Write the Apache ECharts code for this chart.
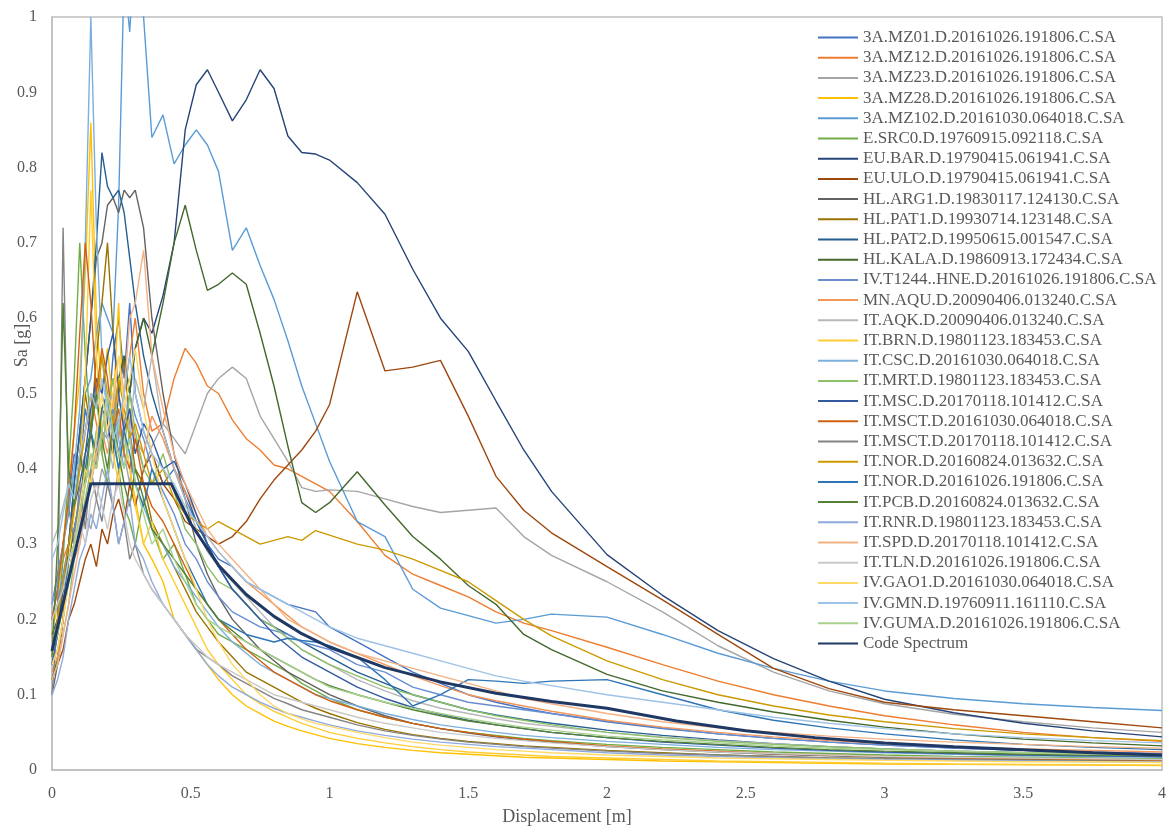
<!DOCTYPE html>
<html>
<head>
<meta charset="utf-8">
<script src="https://cdn.jsdelivr.net/npm/echarts@6/dist/echarts.min.js"></script>
<style>
html,body{margin:0;padding:0;background:#fff;}
#chart{width:1166px;height:830px;}
</style>
</head>
<body>
<div id="chart"></div>
<script>
// Shared displacement grid [m]
const X = [0,0.02,0.04,0.06,0.08,0.1,0.12,0.14,0.16,0.18,
           0.2,0.22,0.24,0.26,0.28,0.3,0.33,0.36,0.4,0.44,
           0.48,0.52,0.56,0.6,0.65,0.7,0.75,0.8,0.85,0.9,
           0.95,1.0,1.1,1.2,1.3,1.4,1.5,1.6,1.7,1.8,
           2.0,2.2,2.4,2.6,2.8,3.0,3.25,3.5,3.75,4.0];

const NAMES = [
 '3A.MZ01.D.20161026.191806.C.SA','3A.MZ12.D.20161026.191806.C.SA','3A.MZ23.D.20161026.191806.C.SA',
 '3A.MZ28.D.20161026.191806.C.SA','3A.MZ102.D.20161030.064018.C.SA','E.SRC0.D.19760915.092118.C.SA',
 'EU.BAR.D.19790415.061941.C.SA','EU.ULO.D.19790415.061941.C.SA','HL.ARG1.D.19830117.124130.C.SA',
 'HL.PAT1.D.19930714.123148.C.SA','HL.PAT2.D.19950615.001547.C.SA','HL.KALA.D.19860913.172434.C.SA',
 'IV.T1244..HNE.D.20161026.191806.C.SA','MN.AQU.D.20090406.013240.C.SA','IT.AQK.D.20090406.013240.C.SA',
 'IT.BRN.D.19801123.183453.C.SA','IT.CSC.D.20161030.064018.C.SA','IT.MRT.D.19801123.183453.C.SA',
 'IT.MSC.D.20170118.101412.C.SA','IT.MSCT.D.20161030.064018.C.SA','IT.MSCT.D.20170118.101412.C.SA',
 'IT.NOR.D.20160824.013632.C.SA','IT.NOR.D.20161026.191806.C.SA','IT.PCB.D.20160824.013632.C.SA',
 'IT.RNR.D.19801123.183453.C.SA','IT.SPD.D.20170118.101412.C.SA','IT.TLN.D.20161026.191806.C.SA',
 'IV.GAO1.D.20161030.064018.C.SA','IV.GMN.D.19760911.161110.C.SA','IV.GUMA.D.20161026.191806.C.SA'
];

const COLORS = ['#4472C4','#ED7D31','#A5A5A5','#FFC000','#5B9BD5','#70AD47',
                '#264478','#9E480E','#636363','#997300','#255E91','#43682B',
                '#698ED0','#F1975A','#B7B7B7','#FFCD33','#7CAFDD','#8CC168',
                '#335AA1','#D26012','#848484','#CC9A00','#2E75B6','#548235',
                '#8FAADC','#F4B183','#C9C9C9','#FFD966','#9DC3E6','#A9D18E'];

const S01 = [0.22,0.26,0.3,0.36,0.42,0.4,0.48,0.44,0.52,0.5, 0.46,0.55,0.6,0.52,0.62,0.5,0.45,0.42,0.38,0.4, 0.36,0.33,0.3,0.28,0.27,0.25,0.24,0.23,0.22,0.215, 0.21,0.19,0.17,0.15,0.13,0.115,0.1,0.09,0.082,0.075, 0.064,0.055,0.048,0.042,0.037,0.033,0.029,0.026,0.023,0.021];
const S02 = [0.2,0.24,0.28,0.3,0.36,0.4,0.45,0.5,0.46,0.42, 0.48,0.52,0.44,0.5,0.55,0.6,0.5,0.45,0.46,0.52, 0.56,0.54,0.51,0.5,0.465,0.44,0.425,0.405,0.4,0.39, 0.38,0.37,0.33,0.285,0.26,0.245,0.23,0.21,0.195,0.185, 0.163,0.14,0.118,0.1,0.085,0.072,0.06,0.05,0.043,0.038];
const S03 = [0.14,0.16,0.2,0.25,0.28,0.3,0.34,0.32,0.36,0.4, 0.38,0.35,0.4,0.42,0.38,0.44,0.4,0.43,0.46,0.44, 0.42,0.46,0.5,0.52,0.535,0.52,0.47,0.44,0.41,0.375, 0.37,0.372,0.37,0.36,0.35,0.342,0.345,0.348,0.31,0.285, 0.25,0.21,0.165,0.13,0.105,0.088,0.074,0.064,0.056,0.05];
const S04 = [0.18,0.22,0.3,0.38,0.45,0.52,0.66,0.86,0.6,0.5, 0.56,0.48,0.62,0.45,0.4,0.36,0.3,0.28,0.25,0.2, 0.18,0.16,0.14,0.12,0.1,0.085,0.075,0.065,0.058,0.052, 0.047,0.042,0.035,0.03,0.026,0.023,0.021,0.019,0.017,0.016, 0.014,0.012,0.011,0.01,0.009,0.008,0.0075,0.007,0.0065,0.006];
const S05 = [0.2,0.24,0.3,0.34,0.4,0.44,0.5,0.52,0.58,0.62, 0.6,0.58,0.75,1.06,0.98,1.1,1.0,0.84,0.87,0.805, 0.83,0.85,0.83,0.795,0.69,0.72,0.67,0.625,0.57,0.51, 0.46,0.41,0.33,0.31,0.24,0.215,0.205,0.195,0.2,0.207, 0.203,0.18,0.155,0.135,0.118,0.105,0.095,0.088,0.083,0.079];
const S06 = [0.16,0.2,0.28,0.4,0.52,0.7,0.55,0.45,0.5,0.42, 0.38,0.45,0.4,0.35,0.33,0.3,0.36,0.32,0.28,0.3, 0.26,0.22,0.2,0.18,0.17,0.16,0.15,0.14,0.13,0.115, 0.105,0.095,0.08,0.07,0.062,0.055,0.05,0.046,0.042,0.039, 0.034,0.03,0.027,0.024,0.022,0.02,0.018,0.017,0.016,0.015];
const S07 = [0.16,0.2,0.24,0.28,0.32,0.36,0.4,0.38,0.44,0.48, 0.46,0.42,0.5,0.55,0.5,0.56,0.6,0.58,0.63,0.7, 0.85,0.91,0.93,0.9,0.862,0.89,0.93,0.905,0.842,0.82, 0.818,0.81,0.78,0.738,0.665,0.6,0.556,0.49,0.425,0.37, 0.286,0.232,0.185,0.148,0.118,0.094,0.076,0.062,0.052,0.044];
const S08 = [0.12,0.14,0.16,0.2,0.22,0.25,0.28,0.3,0.27,0.32, 0.3,0.34,0.36,0.33,0.38,0.35,0.4,0.42,0.38,0.36, 0.33,0.32,0.31,0.3,0.31,0.33,0.36,0.385,0.405,0.425, 0.45,0.485,0.635,0.53,0.535,0.544,0.47,0.39,0.345,0.315, 0.27,0.226,0.18,0.135,0.108,0.09,0.08,0.072,0.064,0.056];
const S09 = [0.1,0.14,0.2,0.3,0.38,0.45,0.52,0.6,0.68,0.7, 0.75,0.76,0.74,0.77,0.76,0.77,0.72,0.6,0.5,0.42, 0.36,0.3,0.26,0.23,0.2,0.18,0.16,0.145,0.13,0.12, 0.11,0.1,0.085,0.072,0.062,0.055,0.049,0.044,0.04,0.037, 0.031,0.027,0.024,0.021,0.019,0.017,0.015,0.014,0.013,0.012];
const S10 = [0.15,0.18,0.24,0.3,0.35,0.42,0.5,0.45,0.55,0.62, 0.7,0.58,0.5,0.55,0.45,0.4,0.38,0.33,0.3,0.27, 0.24,0.21,0.19,0.17,0.15,0.13,0.12,0.11,0.1,0.09, 0.082,0.075,0.063,0.054,0.047,0.042,0.038,0.035,0.032,0.03, 0.026,0.023,0.02,0.018,0.016,0.015,0.014,0.013,0.012,0.011];
const S11 = [0.14,0.18,0.25,0.3,0.38,0.45,0.52,0.6,0.7,0.82, 0.775,0.76,0.77,0.74,0.68,0.62,0.55,0.5,0.45,0.4, 0.37,0.33,0.3,0.27,0.24,0.22,0.2,0.19,0.18,0.17, 0.16,0.15,0.13,0.115,0.1,0.09,0.08,0.073,0.067,0.062, 0.053,0.046,0.04,0.035,0.031,0.028,0.025,0.023,0.021,0.02];
const S12 = [0.12,0.15,0.2,0.28,0.32,0.35,0.42,0.45,0.4,0.48, 0.5,0.46,0.52,0.55,0.5,0.56,0.6,0.55,0.62,0.7, 0.75,0.69,0.637,0.645,0.66,0.645,0.58,0.51,0.43,0.355, 0.342,0.355,0.396,0.352,0.31,0.28,0.245,0.22,0.18,0.16, 0.127,0.105,0.09,0.077,0.066,0.057,0.048,0.041,0.036,0.032];
const S13 = [0.2,0.22,0.26,0.3,0.32,0.36,0.4,0.38,0.42,0.45, 0.44,0.48,0.42,0.46,0.5,0.47,0.44,0.4,0.37,0.34, 0.3,0.28,0.25,0.23,0.21,0.2,0.19,0.185,0.18,0.17, 0.165,0.16,0.14,0.13,0.11,0.1,0.09,0.085,0.08,0.075, 0.065,0.056,0.048,0.042,0.037,0.033,0.029,0.026,0.024,0.022];
const S14 = [0.13,0.15,0.2,0.26,0.3,0.33,0.38,0.42,0.4,0.45, 0.42,0.46,0.5,0.45,0.48,0.44,0.42,0.47,0.44,0.4, 0.37,0.34,0.31,0.29,0.27,0.25,0.235,0.22,0.205,0.19, 0.18,0.17,0.155,0.14,0.125,0.112,0.1,0.092,0.085,0.078, 0.066,0.057,0.05,0.044,0.039,0.035,0.031,0.028,0.026,0.024];
const S15 = [0.3,0.32,0.35,0.38,0.36,0.4,0.42,0.38,0.45,0.48, 0.44,0.4,0.46,0.5,0.45,0.52,0.48,0.55,0.45,0.4, 0.36,0.32,0.29,0.27,0.25,0.23,0.21,0.19,0.175,0.16, 0.15,0.14,0.12,0.105,0.092,0.082,0.075,0.068,0.062,0.058, 0.05,0.044,0.039,0.035,0.031,0.028,0.025,0.023,0.021,0.02];
const S16 = [0.15,0.18,0.22,0.28,0.34,0.4,0.52,0.77,0.55,0.45, 0.5,0.42,0.38,0.45,0.4,0.35,0.3,0.33,0.28,0.25, 0.22,0.19,0.16,0.14,0.12,0.1,0.088,0.078,0.07,0.062, 0.056,0.05,0.042,0.036,0.031,0.027,0.024,0.022,0.02,0.018, 0.016,0.014,0.012,0.011,0.01,0.009,0.008,0.0075,0.007,0.0065];
const S17 = [0.22,0.25,0.3,0.35,0.4,0.48,0.7,1.0,0.72,0.55, 0.48,0.5,0.44,0.4,0.45,0.38,0.35,0.32,0.3,0.27, 0.25,0.23,0.21,0.19,0.17,0.155,0.14,0.13,0.12,0.11, 0.1,0.095,0.085,0.075,0.067,0.06,0.055,0.05,0.046,0.043, 0.038,0.034,0.03,0.027,0.025,0.023,0.021,0.019,0.018,0.017];
const S18 = [0.12,0.14,0.18,0.22,0.28,0.32,0.36,0.4,0.45,0.42, 0.48,0.52,0.46,0.42,0.5,0.45,0.4,0.38,0.42,0.37, 0.32,0.3,0.27,0.25,0.24,0.22,0.2,0.19,0.175,0.16, 0.15,0.14,0.125,0.11,0.1,0.09,0.08,0.072,0.066,0.06, 0.05,0.043,0.038,0.034,0.031,0.028,0.025,0.023,0.021,0.02];
const S19 = [0.18,0.2,0.24,0.3,0.35,0.38,0.42,0.48,0.52,0.5, 0.55,0.58,0.5,0.45,0.48,0.42,0.46,0.44,0.4,0.41, 0.38,0.34,0.3,0.27,0.24,0.22,0.2,0.18,0.165,0.15, 0.14,0.13,0.11,0.095,0.083,0.074,0.066,0.06,0.055,0.05, 0.043,0.037,0.033,0.029,0.026,0.024,0.022,0.02,0.019,0.018];
const S20 = [0.2,0.24,0.3,0.36,0.45,0.58,0.7,0.62,0.5,0.56, 0.52,0.45,0.48,0.42,0.4,0.44,0.38,0.35,0.33,0.3, 0.27,0.24,0.22,0.2,0.18,0.16,0.145,0.13,0.12,0.11, 0.1,0.092,0.08,0.07,0.062,0.055,0.05,0.045,0.041,0.038, 0.032,0.028,0.025,0.022,0.02,0.018,0.016,0.015,0.014,0.013];
const S21 = [0.1,0.2,0.72,0.35,0.3,0.38,0.32,0.4,0.36,0.33, 0.38,0.35,0.3,0.33,0.28,0.3,0.26,0.24,0.22,0.2, 0.18,0.16,0.15,0.14,0.125,0.115,0.105,0.095,0.088,0.08, 0.075,0.07,0.06,0.052,0.046,0.041,0.037,0.034,0.031,0.029, 0.025,0.022,0.02,0.018,0.016,0.015,0.014,0.013,0.012,0.011];
const S22 = [0.16,0.2,0.25,0.3,0.35,0.4,0.45,0.5,0.48,0.55, 0.5,0.46,0.52,0.48,0.44,0.46,0.42,0.38,0.4,0.36, 0.34,0.33,0.32,0.33,0.32,0.31,0.3,0.305,0.31,0.305, 0.318,0.312,0.3,0.292,0.28,0.265,0.25,0.225,0.2,0.178, 0.145,0.12,0.1,0.085,0.073,0.064,0.055,0.048,0.043,0.039];
const S23 = [0.14,0.18,0.22,0.28,0.3,0.35,0.4,0.45,0.42,0.48, 0.5,0.44,0.4,0.45,0.42,0.38,0.35,0.4,0.36,0.32, 0.28,0.25,0.22,0.2,0.19,0.18,0.175,0.17,0.175,0.172, 0.17,0.165,0.15,0.12,0.085,0.1,0.12,0.118,0.115,0.118, 0.12,0.1,0.08,0.066,0.056,0.048,0.04,0.034,0.03,0.027];
const S24 = [0.15,0.3,0.62,0.4,0.35,0.42,0.38,0.45,0.5,0.44, 0.4,0.46,0.42,0.38,0.35,0.4,0.36,0.32,0.3,0.28, 0.26,0.24,0.22,0.2,0.185,0.17,0.16,0.15,0.14,0.13, 0.12,0.112,0.1,0.09,0.08,0.072,0.065,0.06,0.055,0.05, 0.043,0.038,0.034,0.03,0.027,0.025,0.023,0.021,0.02,0.019];
const S25 = [0.1,0.12,0.15,0.2,0.24,0.28,0.3,0.34,0.32,0.36, 0.4,0.35,0.3,0.33,0.36,0.3,0.28,0.25,0.22,0.2, 0.18,0.16,0.14,0.125,0.11,0.1,0.09,0.082,0.075,0.07, 0.065,0.06,0.052,0.046,0.041,0.037,0.034,0.031,0.029,0.027, 0.023,0.02,0.018,0.016,0.015,0.014,0.013,0.012,0.011,0.011];
const S26 = [0.12,0.14,0.18,0.22,0.26,0.3,0.35,0.38,0.42,0.45, 0.5,0.48,0.55,0.5,0.6,0.62,0.69,0.55,0.48,0.42, 0.38,0.35,0.32,0.3,0.28,0.26,0.24,0.22,0.2,0.19, 0.18,0.17,0.155,0.145,0.135,0.125,0.115,0.105,0.095,0.088, 0.075,0.064,0.056,0.05,0.045,0.041,0.037,0.034,0.031,0.029];
const S27 = [0.2,0.22,0.24,0.28,0.3,0.33,0.3,0.36,0.38,0.35, 0.32,0.36,0.38,0.34,0.3,0.28,0.26,0.24,0.22,0.2, 0.18,0.165,0.15,0.14,0.13,0.12,0.11,0.1,0.095,0.09, 0.085,0.08,0.07,0.062,0.056,0.05,0.046,0.042,0.039,0.036, 0.031,0.027,0.024,0.022,0.02,0.018,0.017,0.016,0.015,0.014];
const S28 = [0.14,0.16,0.2,0.25,0.3,0.35,0.4,0.38,0.44,0.5, 0.45,0.5,0.55,0.48,0.52,0.56,0.48,0.42,0.36,0.32, 0.28,0.24,0.2,0.17,0.14,0.12,0.1,0.085,0.075,0.068, 0.062,0.058,0.05,0.043,0.037,0.033,0.03,0.027,0.025,0.023, 0.02,0.018,0.016,0.015,0.014,0.013,0.012,0.011,0.011,0.01];
const S29 = [0.28,0.3,0.34,0.38,0.36,0.42,0.45,0.5,0.48,0.52, 0.48,0.44,0.46,0.5,0.55,0.5,0.45,0.42,0.4,0.38, 0.35,0.33,0.31,0.29,0.27,0.25,0.24,0.23,0.22,0.21, 0.2,0.19,0.175,0.165,0.155,0.145,0.135,0.125,0.118,0.112, 0.1,0.09,0.08,0.07,0.062,0.055,0.048,0.043,0.039,0.036];
const S30 = [0.16,0.18,0.22,0.26,0.3,0.34,0.38,0.42,0.4,0.45, 0.5,0.45,0.42,0.4,0.44,0.38,0.34,0.3,0.32,0.28, 0.25,0.22,0.2,0.19,0.18,0.17,0.16,0.15,0.14,0.13, 0.12,0.11,0.1,0.09,0.082,0.075,0.068,0.062,0.057,0.053, 0.045,0.04,0.036,0.032,0.029,0.027,0.025,0.023,0.021,0.02];

// Code spectrum
const CODE_X = [0,0.14,0.43,0.5,0.6,0.7,0.8,0.9,1.0,1.2,1.4,1.6,1.8,2.0,2.25,2.5,2.75,3.0,3.25,3.5,3.75,4.0];
const CODE_Y = [0.158,0.38,0.38,0.327,0.272,0.233,0.204,0.181,0.163,0.136,0.117,0.102,0.091,0.082,0.065,0.052,0.043,0.036,0.031,0.027,0.023,0.020];
const CODE_NAME = 'Code Spectrum';
const CODE_COLOR = '#1F3864';

const X_TICKS = [0,0.5,1,1.5,2,2.5,3,3.5,4];
const Y_TICKS = [0,0.1,0.2,0.3,0.4,0.5,0.6,0.7,0.8,0.9,1];

const RECORDS = [S01,S02,S03,S04,S05,S06,S07,S08,S09,S10,S11,S12,S13,S14,S15,
                 S16,S17,S18,S19,S20,S21,S22,S23,S24,S25,S26,S27,S28,S29,S30];

const FONT = "'Liberation Serif','Times New Roman',serif";
const TXT = '#595959';

const series = RECORDS.map((ys, i) => ({
  name: NAMES[i],
  type: 'line',
  data: X.map((x, j) => [x, ys[j]]),
  symbol: 'none',
  showSymbol: false,
  lineStyle: { width: 1.4, color: COLORS[i] },
  itemStyle: { color: COLORS[i] },
  clip: true
}));
series.push({
  name: CODE_NAME,
  type: 'line',
  data: CODE_X.map((x, j) => [x, CODE_Y[j]]),
  symbol: 'none',
  showSymbol: false,
  lineStyle: { width: 3, color: CODE_COLOR },
  itemStyle: { color: CODE_COLOR },
  z: 5
});

const chart = echarts.init(document.getElementById('chart'), null, { renderer: 'canvas' });
chart.setOption({
  animation: false,
  backgroundColor: '#ffffff',
  grid: { left: 52, right: 4, top: 17, bottom: 60, containLabel: false, outerBoundsMode: 'none',
          show: true, borderColor: '#BFBFBF', borderWidth: 1.5 },
  xAxis: {
    type: 'value', min: X_TICKS[0], max: X_TICKS[X_TICKS.length - 1], interval: 0.5,
    name: 'Displacement [m]', nameLocation: 'middle', nameGap: 38, nameMoveOverlap: false,
    nameTextStyle: { fontFamily: FONT, fontSize: 18, color: TXT, padding: [0, 80, 0, 0] },
    axisLine: { show: true, lineStyle: { color: '#BFBFBF', width: 1.5 } },
    axisTick: { show: false },
    splitLine: { show: false },
    axisLabel: { fontFamily: FONT, fontSize: 16, color: TXT, margin: 16 }
  },
  yAxis: {
    type: 'value', min: Y_TICKS[0], max: Y_TICKS[Y_TICKS.length - 1], interval: 0.1,
    name: 'Sa [g]', nameLocation: 'middle', nameGap: 21, nameMoveOverlap: false,
    nameTextStyle: { fontFamily: FONT, fontSize: 18, color: TXT, padding: [0, 0, 0, 96] },
    axisLine: { show: true, lineStyle: { color: '#BFBFBF', width: 1.5 } },
    axisTick: { show: false },
    splitLine: { show: false },
    axisLabel: { fontFamily: FONT, fontSize: 16, color: TXT, margin: 15 }
  },
  legend: {
    orient: 'vertical', left: 817, top: 29, padding: 0,
    itemWidth: 40, itemHeight: 16, itemGap: 3.2,
    itemStyle: { opacity: 0, borderWidth: 0 },
    textStyle: { fontFamily: FONT, fontSize: 17, color: TXT, lineHeight: 16 },
    data: NAMES.concat([CODE_NAME])
  },
  series: series
});
</script>
</body>
</html>
